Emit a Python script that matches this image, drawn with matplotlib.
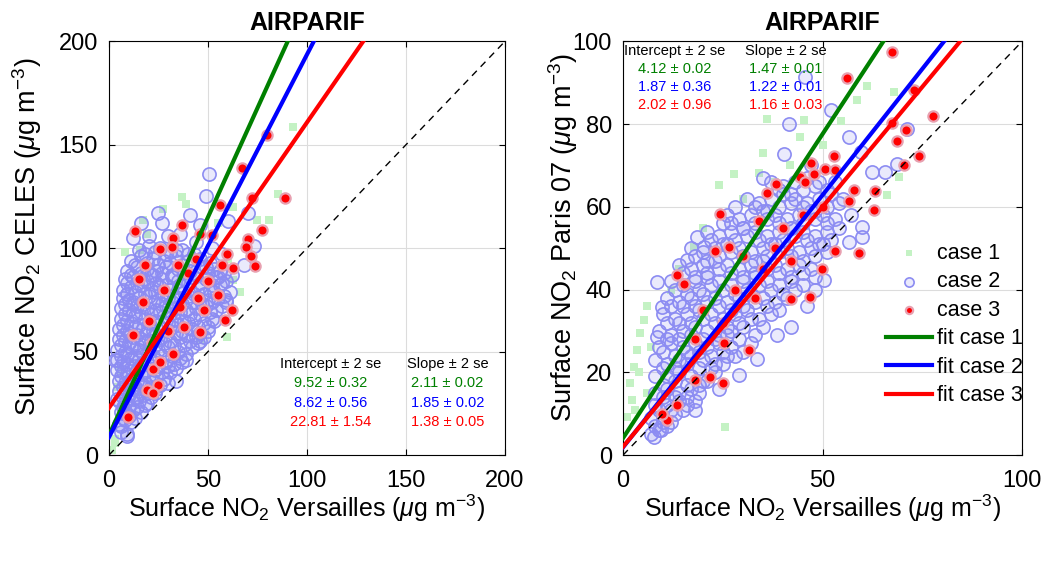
import matplotlib
matplotlib.use("Agg")
import matplotlib.pyplot as plt
import numpy as np

plt.rcParams['font.family'] = ['Liberation Sans', 'DejaVu Sans']
plt.rcParams['mathtext.fontset'] = 'custom'
plt.rcParams['mathtext.rm'] = 'Liberation Sans'
plt.rcParams['mathtext.it'] = 'Liberation Sans:italic'

# ---- left panel: CELES vs Versailles ----
left_case1 = [(93, 158.8), (85.5, 126), (81, 113.4), (66, 78.8), (62.8, 84.5), (36.7, 124.7),
              (39, 121.5), (27.4, 119), (17.3, 113.4), (19, 107), (15.7, 99), (62.8, 120),
              (74.6, 113.4), (3, 5.6), (1.3, 2.4), (5.6, 41), (59.4, 57), (46, 55.5),
              (4, 33), (8, 98), (60, 95), (55, 112), (3, 8)]

left_case2 = [(15, 99), (20, 101), (26, 100), (31, 98), (37, 99), (43, 97),
              (11, 94), (16, 96), (22, 95), (28, 94), (34, 96), (40, 94), (46, 95), (51, 93),
              (9, 89), (14, 91), (19, 90), (24, 89), (29, 91), (35, 90), (41, 89), (47, 91), (53, 90), (58, 88),
              (8, 85), (12, 86), (17, 85), (22, 87), (27, 85), (32, 86), (38, 85), (43, 86), (49, 85), (54, 86), (59, 84),
              (7, 80), (11, 81), (16, 82), (21, 80), (26, 81), (31, 80), (36, 82), (41, 80), (46, 81), (51, 80), (56, 82), (61, 79),
              (7, 76), (10, 75), (15, 76), (20, 77), (25, 75), (30, 76), (35, 75), (40, 77), (45, 76), (50, 75), (55, 76), (59, 74),
              (6, 71), (10, 70), (14, 72), (19, 71), (24, 70), (29, 72), (34, 71), (39, 70), (44, 71), (49, 72), (54, 70),
              (6, 66), (9, 65), (13, 67), (18, 66), (23, 65), (28, 67), (33, 66), (38, 65), (43, 66), (48, 64), (52, 66),
              (5, 61), (9, 60), (13, 62), (17, 61), (22, 60), (27, 61), (32, 62), (37, 60), (42, 61), (46, 59), (50, 60),
              (5, 56), (8, 55), (12, 57), (16, 56), (21, 55), (26, 56), (31, 55), (36, 57), (41, 55), (45, 54),
              (4, 51), (8, 50), (11, 52), (15, 51), (20, 50), (25, 51), (30, 52), (35, 50), (39, 49),
              (4, 46), (7, 45), (11, 47), (15, 46), (19, 45), (24, 46), (29, 45), (33, 44), (37, 45),
              (4, 41), (7, 40), (11, 42), (14, 41), (18, 40), (23, 41), (27, 40), (31, 40),
              (5, 36), (8, 35), (11, 37), (14, 36), (18, 35), (22, 36), (26, 34), (30, 35),
              (5, 31), (8, 30), (12, 32), (15, 31), (19, 30), (23, 30),
              (5, 26), (8, 25), (12, 27), (15, 26), (19, 25),
              (6, 21), (9, 20), (12, 22), (16, 21),
              (5, 15), (8, 17), (11, 16), (6, 11), (9, 10),
              # offset rows of the dense core
              (18, 97), (23, 98), (29, 97), (34, 99), (40, 97),
              (13, 92), (19, 93), (25, 92), (31, 93), (37, 92), (43, 93), (49, 91),
              (11, 87), (16, 88), (21, 87), (27, 88), (32, 87), (38, 88), (44, 87), (50, 88), (55, 86),
              (9, 83), (14, 83), (19, 84), (24, 83), (29, 82), (35, 84), (40, 83), (46, 83), (52, 82), (57, 83),
              (9, 78), (13, 79), (18, 78), (23, 79), (28, 78), (33, 77), (38, 79), (43, 78), (48, 78), (53, 79), (58, 77),
              (8, 73), (12, 74), (17, 73), (22, 74), (27, 73), (32, 74), (37, 73), (42, 74), (47, 73), (52, 74), (57, 72),
              (8, 68), (12, 68), (16, 69), (21, 68), (26, 69), (31, 68), (36, 69), (41, 68), (46, 68), (51, 69),
              (7, 63), (11, 64), (15, 63), (20, 64), (25, 63), (30, 64), (35, 63), (40, 64), (45, 62), (50, 62),
              (7, 58), (10, 59), (14, 58), (19, 59), (24, 58), (29, 58), (34, 59), (39, 58), (44, 57), (48, 57),
              (6, 53), (10, 54), (14, 53), (18, 54), (23, 53), (28, 54), (33, 53), (38, 53), (42, 52),
              (6, 48), (9, 49), (13, 48), (17, 49), (22, 48), (27, 48), (32, 48), (36, 47),
              (6, 43), (9, 44), (13, 43), (16, 44), (21, 43), (25, 43), (30, 43), (34, 42),
              (6, 38), (9, 39), (13, 38), (16, 39), (20, 38), (24, 38), (28, 37),
              (7, 33), (10, 34), (13, 33), (17, 34), (21, 33), (24, 32),
              (7, 28), (10, 29), (14, 28), (17, 29), (21, 28),
              (7, 23), (10, 24), (14, 23), (18, 24),
              (7, 18), (10, 19), (13, 18),
              # sparse outer points
              (50.5, 136), (49, 125), (25, 117), (16, 112), (27, 112), (41, 116), (46, 111),
              (70, 117), (60, 113), (36, 107), (73, 101), (68, 92), (9, 78), (3, 46), (4, 27),
              (6, 14), (9, 9), (34, 36), (39, 46), (46, 55), (53, 65), (59, 75), (62, 87),
              (56, 89), (12, 105), (20, 106), (30, 106), (44, 103), (52, 100), (57, 97)]

left_case3 = [(79.6, 154.8), (67, 138.7), (88.9, 124.4), (72, 124.4), (56, 121), (13.1, 108.3),
              (36.7, 111.3), (77.4, 109), (32.5, 105), (70.4, 104.6), (31.6, 100.6), (51.9, 106.2),
              (69.2, 100.6), (71.5, 96), (73.7, 91.4), (59.4, 97.3), (18.2, 92), (57, 92),
              (62.8, 90.4), (62, 70), (58.6, 65.2), (46, 59.5), (55.2, 77.6), (25.8, 99.8),
              (46, 107), (22.4, 41.8), (24.9, 33.8), (19, 31.4), (9.8, 18.5), (21.5, 54),
              (32.5, 49), (36, 71.6), (28, 80), (40, 88), (45, 76), (15, 85), (20, 65),
              (30, 60), (38, 62), (12, 58), (50, 84), (26, 45), (44, 95), (17, 74), (35, 92),
              (48, 70), (22, 30), (14, 40)]

left_intercept = [9.52, 8.62, 22.81]
left_intercept_se = [0.32, 0.56, 1.54]
left_slope = [2.11, 1.85, 1.38]
left_slope_se = [0.02, 0.02, 0.05]

# ---- right panel: Paris 07 vs Versailles ----
right_case1 = [(2.7, 21.3), (3.5, 25.3), (1.8, 17.3), (4.3, 29.4), (5.2, 32.6), (1, 9.3), (2.3, 13.3),
               (6, 36), (24, 65.2), (27.7, 68), (36.1, 81.3), (45.3, 81), (44.3, 76.8), (35.1, 73),
               (34, 68.1), (41.9, 70.2), (61.2, 89.3), (58.6, 85.9), (67.8, 87.7), (54.5, 80.7),
               (66.2, 62.9), (69.1, 67.2), (17.7, 50.3), (25.6, 6.8), (14, 45), (12, 40), (20, 55),
               (30, 62), (38, 66), (50, 75), (7, 26), (6, 15), (4, 20), (3, 11)]

right_case2 = [(7, 5), (9, 6), (11, 7),
               (7, 9), (10, 9), (13, 10),
               (8, 12), (11, 12), (14, 13), (16, 12),
               (8, 15), (11, 16), (14, 15), (17, 16), (19, 15),
               (8, 19), (11, 19), (14, 20), (17, 19), (20, 18), (23, 20),
               (8, 23), (11, 22), (14, 23), (17, 24), (20, 23), (23, 22), (26, 24),
               (9, 26), (12, 27), (15, 26), (18, 27), (21, 26), (24, 27), (27, 26), (30, 25),
               (9, 30), (12, 29), (15, 30), (18, 31), (21, 30), (24, 29), (27, 30), (30, 31), (33, 29),
               (10, 34), (13, 33), (16, 34), (19, 35), (22, 34), (25, 33), (28, 34), (31, 35), (34, 33), (37, 34),
               (11, 38), (14, 37), (17, 38), (20, 39), (23, 38), (26, 37), (29, 38), (32, 39), (35, 38), (38, 37), (41, 38),
               (12, 42), (15, 41), (18, 42), (21, 43), (24, 42), (27, 41), (30, 42), (33, 43), (36, 42), (39, 41), (42, 42), (45, 41),
               (14, 46), (17, 45), (20, 46), (23, 47), (26, 46), (29, 45), (32, 46), (35, 47), (38, 46), (41, 45), (44, 46), (47, 45),
               (17, 50), (20, 49), (23, 50), (26, 51), (29, 50), (32, 49), (35, 50), (38, 51), (41, 50), (44, 49), (47, 50), (50, 51),
               (21, 54), (24, 53), (27, 54), (30, 55), (33, 54), (36, 53), (39, 54), (42, 55), (45, 54), (48, 53), (51, 54),
               (26, 58), (29, 57), (32, 58), (35, 59), (38, 58), (41, 57), (44, 58), (47, 59), (50, 58), (53, 57),
               (31, 62), (34, 61), (37, 62), (40, 63), (43, 62), (46, 61), (49, 62), (52, 63),
               (37, 66), (40, 65), (43, 66), (46, 67), (49, 66),
               # offset rows of the dense band
               (8, 7), (10, 8), (12, 8),
               (9, 11), (12, 11), (15, 11),
               (10, 14), (13, 14), (16, 14), (18, 13),
               (10, 17), (13, 18), (16, 17), (19, 17), (21, 18),
               (10, 21), (13, 21), (16, 22), (19, 21), (22, 21), (25, 22),
               (10, 25), (13, 24), (16, 25), (19, 25), (22, 24), (25, 25), (28, 24),
               (11, 28), (14, 28), (17, 29), (20, 28), (23, 28), (26, 29), (29, 28), (32, 27),
               (11, 32), (14, 32), (17, 32), (20, 33), (23, 32), (26, 31), (29, 32), (32, 33), (35, 31),
               (12, 36), (15, 36), (18, 36), (21, 37), (24, 36), (27, 35), (30, 36), (33, 37), (36, 36), (39, 35),
               (13, 40), (16, 39), (19, 40), (22, 41), (25, 40), (28, 39), (31, 40), (34, 41), (37, 40), (40, 39), (43, 40),
               (15, 44), (18, 43), (21, 44), (24, 45), (27, 44), (30, 43), (33, 44), (36, 45), (39, 44), (42, 43), (45, 44), (48, 43),
               (18, 48), (21, 47), (24, 48), (27, 49), (30, 48), (33, 47), (36, 48), (39, 49), (42, 48), (45, 47), (48, 48), (51, 49),
               (22, 52), (25, 51), (28, 52), (31, 53), (34, 52), (37, 51), (40, 52), (43, 53), (46, 52), (49, 51), (52, 52),
               (27, 56), (30, 55), (33, 56), (36, 57), (39, 56), (42, 55), (45, 56), (48, 57), (51, 56), (54, 55),
               (33, 60), (36, 59), (39, 60), (42, 61), (45, 60), (48, 59), (51, 60), (54, 61),
               (39, 64), (42, 63), (45, 64), (48, 65), (51, 64),
               # sparse outer points
               (45.7, 91.3), (52, 83.3), (41.5, 80), (40.2, 72.8), (56.6, 76.8), (59.5, 73.2),
               (71.2, 78.8), (65.7, 68.4), (62.4, 68.4), (68.7, 70.4), (59.9, 55.1), (59.9, 52.7),
               (56.6, 51.5), (50.3, 42.2), (38.6, 29), (33.6, 23.3), (29, 19.3), (8.5, 41.8),
               (9.8, 35.8), (8.5, 28.6), (7.7, 4.4), (9.4, 6), (20.2, 50.3), (16, 47.1), (18.5, 52.7),
               (25, 56), (28, 60), (55, 62), (57, 58), (35, 67), (47, 70), (53, 66), (42, 31),
               (46, 36), (48, 40), (24, 16), (18, 11)]

right_case3 = [(67.4, 97.3), (56, 91.1), (72.8, 88.3), (77.7, 82), (67.4, 80.2), (70.8, 78.6),
               (68.7, 75.8), (74.1, 72.2), (70.3, 70), (52.8, 72.2), (47, 70.6), (50.7, 69.2),
               (53.2, 68.8), (44.4, 67.3), (38.2, 65.4), (36.1, 63.3), (57.8, 64.1), (63.2, 63.8),
               (62.8, 59.3), (56.6, 61.5), (24.4, 58.3), (34, 56.6), (59.1, 48.8), (53.2, 49.3),
               (49.9, 45), (46.8, 38.2), (42.1, 37.6), (13.4, 43.4), (15.2, 41.3), (26.5, 50.4),
               (23, 49.3), (31.5, 25.3), (25.1, 17.5), (21.9, 18.9), (25.2, 27), (11, 8.4),
               (13.5, 12.1), (9.8, 10), (18.1, 18.1), (47.8, 68), (45.7, 66),
               (20, 35), (28, 40), (35, 45), (40, 55), (30, 48), (45, 58), (18, 28), (38, 50),
               (50, 60), (33, 38), (25, 32), (42, 47)]

right_intercept = [4.12, 1.87, 2.02]
right_intercept_se = [0.02, 0.36, 0.96]
right_slope = [1.47, 1.22, 1.16]
right_slope_se = [0.01, 0.01, 0.03]

fit_colors = ['#008000', '#0000ff', '#ff0000']
case_labels = ['case 1', 'case 2', 'case 3', 'fit case 1', 'fit case 2', 'fit case 3']

fig = plt.figure(figsize=(10.56, 5.66), dpi=100)
ax1 = fig.add_axes([0.1032, 0.196, 0.375, 0.731])
ax2 = fig.add_axes([0.590, 0.196, 0.378, 0.731])


def draw_panel(ax, c1, c2, c3, icpt, icpt_se, slp, slp_se, lim, ylab, txt_pos):
    c1 = np.array(c1); c2 = np.array(c2); c3 = np.array(c3)
    h1 = ax.scatter(c1[:, 0], c1[:, 1], s=28, marker='s', color='#c4f2c4', linewidths=0, zorder=2)
    h2 = ax.scatter(c2[:, 0], c2[:, 1], s=90, facecolors=(0.55, 0.55, 0.95, 0.18),
                    edgecolors='#8c8cf2', linewidths=1.2, zorder=3)
    h3 = ax.scatter(c3[:, 0], c3[:, 1], s=55, color='#ff0000', edgecolors='#e8a0b0',
                    linewidths=1.6, zorder=4)
    xx = np.array([0, lim])
    lines = []
    for b, m, c in zip(icpt, slp, fit_colors):
        ln, = ax.plot(xx, b + m * xx, color=c, lw=3, zorder=5)
        lines.append(ln)
    ax.plot(xx, xx, 'k--', lw=1, dashes=(5, 4), zorder=6)
    ax.set_xlim(0, lim)
    ax.set_ylim(0, lim)
    ax.grid(True, color='#dcdcdc', lw=0.8)
    ax.set_axisbelow(True)
    ax.tick_params(direction='in', top=True, right=True, labelsize=17, length=4,
                   width=0.8)
    ax.tick_params(axis='x', pad=11)
    ax.tick_params(axis='y', pad=8)
    for sp in ax.spines.values():
        sp.set_linewidth(0.8)
    ax.set_title('AIRPARIF', fontsize=18, fontweight='bold', pad=8)
    ax.set_xlabel('Surface NO$_2$ Versailles ($\\mu$g m$^{-3}$)', fontsize=18, labelpad=0)
    ax.set_ylabel(ylab, fontsize=19.5)

    (ix, sx, y0, dy) = txt_pos
    ax.text(ix, y0, 'Intercept \u00b1 2 se', fontsize=10.5, ha='center', va='center', zorder=7)
    ax.text(sx, y0, 'Slope \u00b1 2 se', fontsize=10.5, ha='center', va='center', zorder=7)
    for k in range(3):
        yk = y0 - dy * (k + 1)
        ax.text(ix, yk, f'{icpt[k]:.2f} \u00b1 {icpt_se[k]:.2f}', color=fit_colors[k],
                fontsize=10.5, ha='center', va='center', zorder=7)
        ax.text(sx, yk, f'{slp[k]:.2f} \u00b1 {slp_se[k]:.2f}', color=fit_colors[k],
                fontsize=10.5, ha='center', va='center', zorder=7)
    return [h1, h2, h3] + lines


draw_panel(ax1, left_case1, left_case2, left_case3, left_intercept, left_intercept_se,
           left_slope, left_slope_se, 200, 'Surface NO$_2$ CELES ($\\mu$g m$^{-3}$)',
           (112, 171, 44.2, 9.4))
handles = draw_panel(ax2, right_case1, right_case2, right_case3, right_intercept,
                     right_intercept_se, right_slope, right_slope_se, 100,
                     'Surface NO$_2$ Paris 07 ($\\mu$g m$^{-3}$)',
                     (13.0, 40.7, 97.6, 4.3))
ax1.set_xticks([0, 50, 100, 150, 200])
ax1.set_yticks([0, 50, 100, 150, 200])
ax2.set_xticks([0, 50, 100])
ax2.set_yticks([0, 20, 40, 60, 80, 100])
ax1.yaxis.set_label_coords(-0.164, 0.527)
ax2.yaxis.set_label_coords(-0.108, 0.527)

ax2.legend(handles, case_labels, loc='upper left', bbox_to_anchor=(0.66, 0.513),
           frameon=False, fontsize=15.5, handlelength=2.1, handletextpad=0.25,
           labelspacing=0.35, borderpad=0, borderaxespad=0, markerscale=0.7)

fig.savefig('out.png', dpi=100)
